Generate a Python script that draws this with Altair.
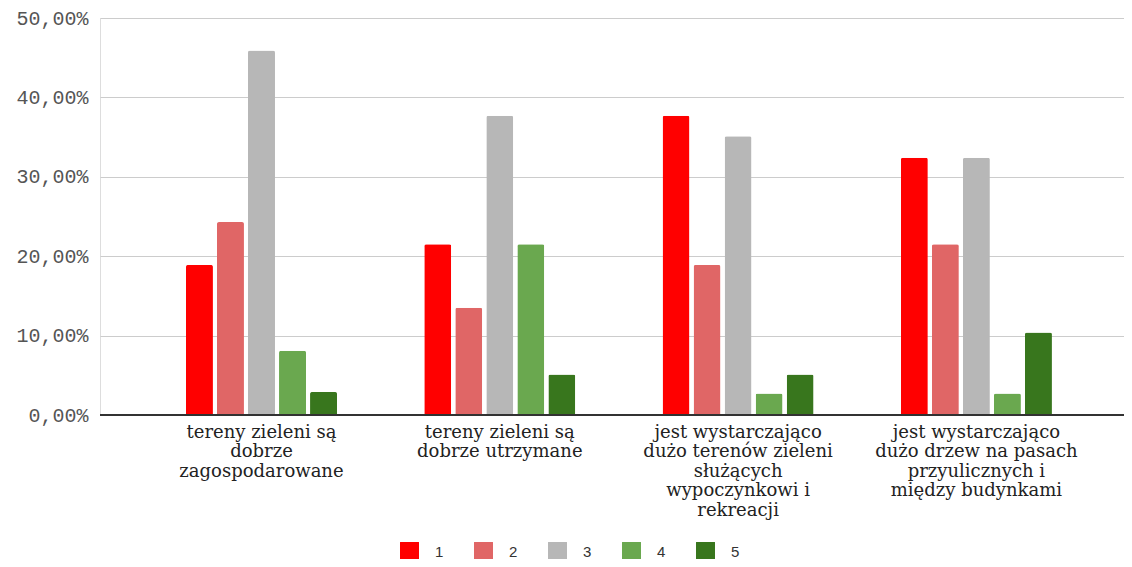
import altair as alt
import pandas as pd

# Category labels (line breaks as in the original chart)
category_lines = [
    ["tereny zieleni są", "dobrze", "zagospodarowane"],
    ["tereny zieleni są", "dobrze utrzymane"],
    ["jest wystarczająco", "dużo terenów zieleni", "służących", "wypoczynkowi i", "rekreacji"],
    ["jest wystarczająco", "dużo drzew na pasach", "przyulicznych i", "między budynkami"],
]
categories = ["\n".join(c) for c in category_lines]

series = ["1", "2", "3", "4", "5"]
colors = ["#ff0000", "#e06666", "#b7b7b7", "#6aa84f", "#38761d"]

# Values in percent, per series, in category order
s1 = [18.9, 21.5, 37.7, 32.4]
s2 = [24.3, 13.5, 18.9, 21.5]
s3 = [45.9, 37.7, 35.1, 32.4]
s4 = [8.1, 21.5, 2.7, 2.7]
s5 = [2.9, 5.1, 5.1, 10.4]
values = [s1, s2, s3, s4, s5]

y_ticks = [0, 0.1, 0.2, 0.3, 0.4, 0.5]

rows = []
for si, sname in enumerate(series):
    for ci, cat in enumerate(categories):
        rows.append({"kat": cat, "serie": sname, "wartosc": values[si][ci] / 100})
df = pd.DataFrame(rows)

bars = alt.Chart(df).mark_bar(cornerRadiusTopLeft=2, cornerRadiusTopRight=2).encode(
    x=alt.X(
        "kat:N",
        sort=categories,
        scale=alt.Scale(paddingInner=0.366, paddingOuter=0.3315, align=0.544),
        axis=alt.Axis(
            title=None,
            labelAngle=0,
            labelExpr="split(datum.label, '\\n')",
            domain=False,
            ticks=False,
            grid=False,
            labelFont="DejaVu Serif",
            labelFontSize=18,
            labelColor="#222222",
            labelLineHeight=19.5,
            labelPadding=8,
            labelBaseline="top",
            labelOverlap=False,
            labelLimit=400,
        ),
    ),
    xOffset=alt.XOffset("serie:N", sort=series, scale=alt.Scale(paddingInner=0.13, paddingOuter=0)),
    y=alt.Y(
        "wartosc:Q",
        scale=alt.Scale(domain=[0, 0.5]),
        axis=alt.Axis(
            title=None,
            values=y_ticks,
            labelExpr="replace(format(datum.value, '.2%'), '.', ',')",
            domain=False,
            ticks=False,
            gridColor="#cccccc",
            labelFont="Liberation Mono",
            labelFontSize=20,
            labelColor="#555555",
            labelPadding=12,
        ),
    ),
    color=alt.Color(
        "serie:N",
        sort=series,
        scale=alt.Scale(domain=series, range=colors),
        legend=alt.Legend(
            title=None,
            orient="none",
            legendX=300,
            legendY=524,
            direction="horizontal",
            columns=5,
            symbolType="square",
            symbolSize=360,
            symbolStrokeWidth=0,
            labelFont="Liberation Sans",
            labelFontSize=15,
            labelColor="#333333",
            labelOffset=16,
            columnPadding=30,
            padding=0,
        ),
    ),
)

baseline = alt.Chart(df).mark_rule(color="#333333", strokeWidth=1).encode(y=alt.datum(0))

chart = alt.layer(bars, baseline).properties(
    width=1024,
    height=397,
    padding={"left": 92, "top": 10, "right": 0, "bottom": 144},
    autosize=alt.AutoSizeParams(type="none"),
).configure_view(strokeWidth=0, stroke="transparent").configure(background="white")

chart.save("out.html", embed_options={"renderer": "svg", "actions": False})
